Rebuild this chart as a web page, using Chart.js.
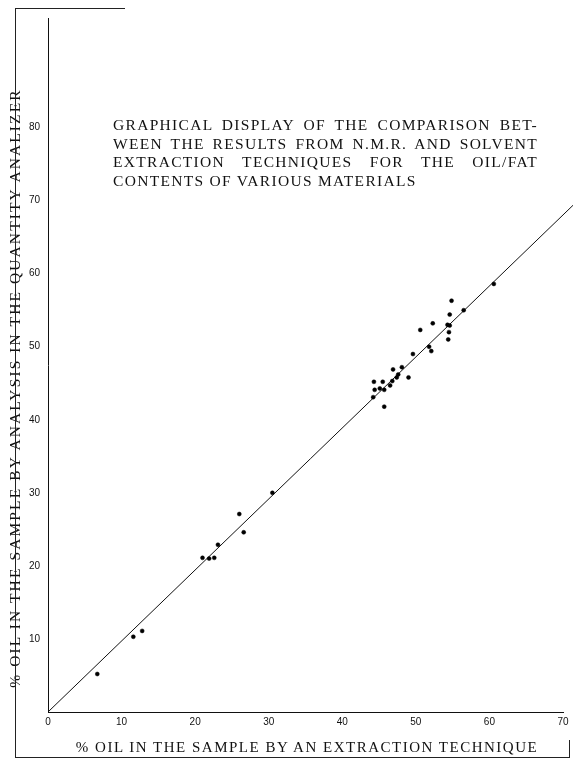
<!DOCTYPE html>
<html>
<head>
<meta charset="utf-8">
<script src="https://cdn.jsdelivr.net/npm/chart.js@4.4.0/dist/chart.umd.min.js"></script>
<style>
    html, body { margin: 0; padding: 0; background: #fff; }
    #wrap { position: relative; width: 573px; height: 764px; overflow: hidden; }
    #oilChart { position: absolute; left: 0; top: 0; }
    .serif {
        font-family: 'Liberation Serif', 'Times New Roman', serif;
        color: #111; white-space: nowrap;
    }
    #note {
        position: absolute; left: 113px; top: 116px; width: 425px;
        font-size: 15.5px; line-height: 18.5px; letter-spacing: 1.3px;
    }
    #note div { text-align: justify; text-align-last: justify; }
    #note div.last { text-align-last: left; }
    #xTitle {
        position: absolute; left: 7px; top: 737px; width: 600px;
        text-align: center; line-height: 20px; font-size: 15px; letter-spacing: 1.5px;
    }
    #yTitle {
        position: absolute; left: -295px; top: 378px; width: 620px; height: 20px;
        text-align: center; line-height: 20px; font-size: 15.5px; letter-spacing: 2.1px;
        transform: rotate(-90deg); transform-origin: 50% 50%;
    }
    .edge { position: absolute; background: #222; }
</style>
</head>
<body>
<div id="wrap">
    <canvas id="oilChart" width="573" height="764"></canvas>
    <div id="note" class="serif">
        <div>GRAPHICAL DISPLAY OF THE COMPARISON BET-</div>
        <div>WEEN THE RESULTS FROM N.M.R. AND SOLVENT</div>
        <div>EXTRACTION TECHNIQUES FOR THE OIL/FAT</div>
        <div class="last">CONTENTS OF VARIOUS MATERIALS</div>
    </div>
    <div id="xTitle" class="serif">% OIL IN THE SAMPLE BY AN EXTRACTION TECHNIQUE</div>
    <div id="yTitle" class="serif">% OIL IN THE SAMPLE BY ANALYSIS IN THE QUANTITY ANALIZER</div>
    <!-- scanned page edges -->
    <div class="edge" style="left:15px; top:8px; width:1px; height:750px;"></div>
    <div class="edge" style="left:15px; top:8px; width:110px; height:1px;"></div>
    <div class="edge" style="left:15px; top:757px; width:555px; height:1px;"></div>
    <div class="edge" style="left:569px; top:740px; width:1px; height:18px;"></div>
</div>
<script>
    // Tick labels
    const xTicks = [0, 10, 20, 30, 40, 50, 60, 70];
    const yTicks = [10, 20, 30, 40, 50, 60, 70, 80];

    // % oil by extraction technique (x) vs by N.M.R. analyzer (y)
    const extractionPct = [6.7, 11.6, 12.8, 21.0, 21.9, 22.6, 23.1, 26.0, 26.6, 30.5,
        44.2, 44.4, 45.1, 45.7, 45.7, 44.3, 45.5, 46.5, 46.8, 47.4, 46.9, 48.1, 49.0, 47.6,
        49.6, 51.8, 52.1, 50.6, 52.3, 54.3, 54.6, 54.5, 54.4, 54.6, 54.85, 56.5, 60.6];
    const nmrPct = [5.2, 10.3, 11.1, 21.1, 21.0, 21.1, 22.9, 27.1, 24.6, 30.0,
        43.1, 44.1, 44.3, 44.1, 41.8, 45.2, 45.2, 44.7, 45.3, 45.8, 46.9, 47.2, 45.8, 46.2,
        49.0, 50.0, 49.4, 52.3, 53.2, 53.0, 52.9, 52.0, 51.0, 54.4, 56.3, 55.0, 58.6];

    // Comparison line
    const fitX = [0, 71.4];
    const fitY = [0, 69.4];

    const tickFont = { family: "'Liberation Sans', Arial, sans-serif", size: 10 };

    const ctx = document.getElementById('oilChart').getContext('2d');
    const oilChart = new Chart(ctx, {
        type: 'scatter',
        data: {
            datasets: [{
                label: 'Samples',
                data: extractionPct.map((x, i) => ({ x: x, y: nmrPct[i] })),
                pointStyle: 'circle',
                pointRadius: 2,
                backgroundColor: '#000',
                borderColor: '#000',
                borderWidth: 0.5
            },
            {
                type: 'line',
                label: 'Line',
                data: fitX.map((x, i) => ({ x: x, y: fitY[i] })),
                borderColor: '#111',
                borderWidth: 1,
                pointRadius: 0,
                fill: false,
                clip: false
            }
            ]
        },
        options: {
            responsive: false,
            animation: false,
            layout: {
                padding: { left: 0, right: 10, top: 18, bottom: 0 }
            },
            plugins: {
                legend: { display: false },
                tooltip: { enabled: false }
            },
            scales: {
                x: {
                    type: 'linear',
                    min: 0,
                    max: 70,
                    afterBuildTicks: function (scale) {
                        scale.ticks = xTicks.map(v => ({ value: v }));
                    },
                    afterFit: function (scale) {
                        scale.height = 52;
                    },
                    grid: { display: false, drawTicks: false },
                    border: { display: true, color: '#111', width: 1 },
                    ticks: {
                        padding: 4,
                        color: '#111',
                        font: tickFont,
                        autoSkip: false,
                        maxRotation: 0
                    }
                },
                y: {
                    type: 'linear',
                    min: 0,
                    max: 95,
                    afterBuildTicks: function (scale) {
                        scale.ticks = yTicks.map(v => ({ value: v }));
                    },
                    afterFit: function (scale) {
                        scale.width = 48;
                    },
                    grid: { display: false, drawTicks: false },
                    border: { display: true, color: '#111', width: 1 },
                    ticks: {
                        padding: 8,
                        color: '#111',
                        font: tickFont,
                        autoSkip: false
                    }
                }
            }
        }
    });
</script>
</body>
</html>
